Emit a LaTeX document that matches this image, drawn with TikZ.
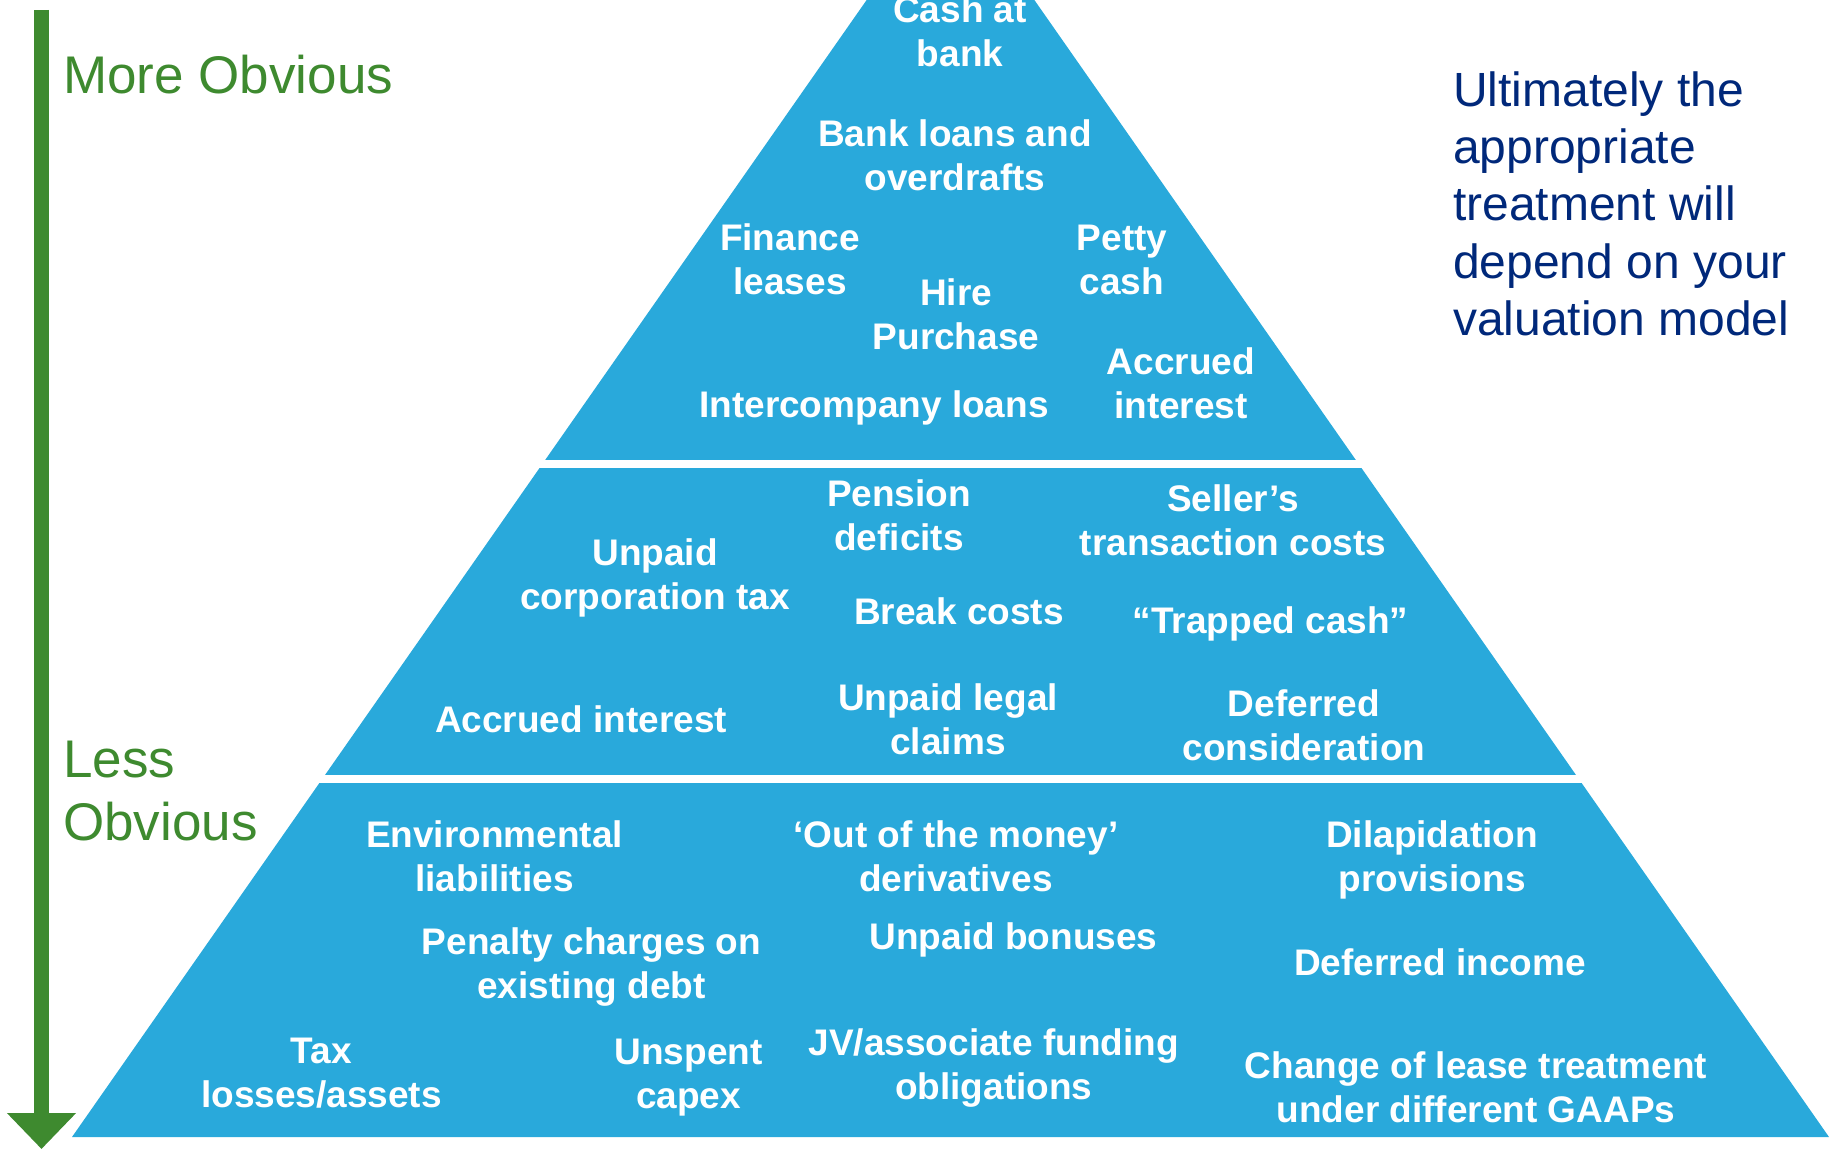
\documentclass[tikz,border=0pt]{standalone}
\usepackage{fontspec}
\setmainfont{Liberation Sans}
\usetikzlibrary{arrows.meta}
\definecolor{pyrblue}{RGB}{41,169,219}
\definecolor{scalegreen}{RGB}{62,138,47}
\definecolor{notenavy}{RGB}{0,40,122}
\begin{document}
% multi-line nodes are placed by the baseline of their last line
\begin{tikzpicture}[x=1pt,y=-1pt,
  item/.style={text=white, font=\fontsize{37}{44.3}\selectfont\bfseries, align=center, anchor=base, inner sep=0pt},
  scalelbl/.style={text=scalegreen, font=\fontsize{53}{63}\selectfont, align=left, anchor=base west, inner sep=0pt},
  note/.style={text=notenavy, font=\fontsize{48}{57.1}\selectfont, align=left, anchor=base west, inner sep=0pt},
  separator/.style={fill=white, draw=none}]
\useasboundingbox (0,0) rectangle (1833,1148);
\clip (0,0) rectangle (1833,1148);

% pyramid and the two white separators between its tiers
\fill[pyrblue] (950.5,-120) -- (1829,1137) -- (72,1137) -- cycle;
\fill[separator] (250,460) rectangle (1700,468);
\fill[separator] (250,775) rectangle (1700,783);

% obviousness scale
\coordinate (scaletop) at (41.5,10);
\coordinate (scaletip) at (41.5,1149);
\draw[scalegreen, line width=14.5pt, -{Triangle[width=67pt,length=36pt]}] (scaletop) -- (scaletip);
\node[scalelbl] (more) at (63,93) {More Obvious};
\node[scalelbl] (less) at (63,840) {Less\\Obvious};

% side note
\node[note] (note) at (1453,335.1) {Ultimately the\\appropriate\\treatment will\\depend on your\\valuation model};

% top tier
\node[item] (cash)   at (960,66.8)   {Cash at\\bank};
\node[item] (loans)  at (955,190.3)  {Bank loans and\\overdrafts};
\node[item] (fin)    at (790,294.3)  {Finance\\leases};
\node[item] (petty)  at (1122,294.3) {Petty\\cash};
\node[item] (hire)   at (956,349.3)  {Hire\\Purchase};
\node[item] (accr1)  at (1181,418.3) {Accrued\\interest};
\node[item] (icl)    at (874,417)    {Intercompany loans};

% middle tier
\node[item] (pens)   at (899,550.3)  {Pension\\deficits};
\node[item] (seller) at (1233,555.3) {Seller’s\\transaction costs};
\node[item] (ctax)   at (655,609.3)  {Unpaid\\corporation tax};
\node[item] (brk)    at (959,624)    {Break costs};
\node[item] (trap)   at (1270.5,633) {“Trapped cash”};
\node[item] (accr2)  at (581,732)    {Accrued interest};
\node[item] (legal)  at (948,754.3)  {Unpaid legal\\claims};
\node[item] (defc)   at (1304,760.3) {Deferred\\consideration};

% bottom tier
\node[item] (env)    at (494.5,891.3) {Environmental\\liabilities};
\node[item] (otm)    at (956,891.3)   {‘Out of the money’\\derivatives};
\node[item] (dilap)  at (1432,891.3)  {Dilapidation\\provisions};
\node[item] (pen)    at (591.5,998.3) {Penalty charges on\\existing debt};
\node[item] (bonus)  at (1013.5,949)  {Unpaid bonuses};
\node[item] (definc) at (1440,975)    {Deferred income};
\node[item] (tax)    at (321.5,1107.3){Tax\\losses/assets};
\node[item] (capex)  at (688.5,1108.3){Unspent\\capex};
\node[item] (jv)     at (993.7,1099.3){JV/associate funding\\obligations};
\node[item] (lease)  at (1476,1122.6) {Change of lease treatment\\under different GAAPs};
\end{tikzpicture}
\end{document}
